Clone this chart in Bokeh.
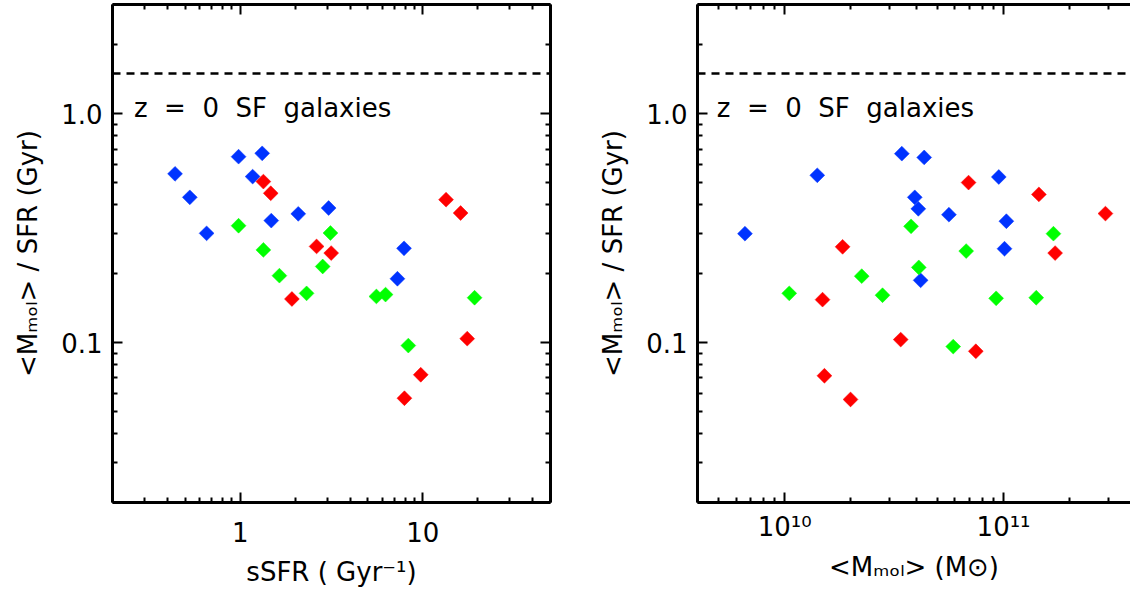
import numpy as np
from bokeh.plotting import figure
from bokeh.layouts import row
from bokeh.models import (FixedTicker, LogAxis, Span, Label, PrintfTickFormatter,
                          CustomJSTickFormatter, Range1d)
from bokeh.embed import file_html
from bokeh.resources import INLINE

# ---------------- data ----------------
# Left panel: sSFR (Gyr^-1) vs <M_mol>/SFR (Gyr)
ssfr_blue = [0.44, 0.53, 0.655, 0.98, 1.32, 1.17, 1.48, 2.08, 3.05, 7.89, 7.26]
tdep_blue_l = [0.546, 0.431, 0.300, 0.649, 0.671, 0.531, 0.341, 0.365, 0.387, 0.258, 0.190]
ssfr_red = [1.34, 1.47, 2.62, 3.15, 13.4, 16.1, 1.92, 17.5, 9.74, 7.93]
tdep_red_l = [0.505, 0.449, 0.263, 0.246, 0.421, 0.368, 0.155, 0.104, 0.0723, 0.0571]
ssfr_green = [0.98, 1.34, 3.12, 2.83, 1.64, 2.31, 5.57, 6.25, 19.2, 8.33]
tdep_green_l = [0.324, 0.254, 0.301, 0.215, 0.196, 0.164, 0.159, 0.162, 0.157, 0.097]

# Right panel: <M_mol> (Msun) vs <M_mol>/SFR (Gyr)
mmol_blue = [6.59e9, 1.41e10, 3.43e10, 4.34e10, 3.93e10, 4.08e10, 5.63e10, 9.51e10, 1.03e11, 1.01e11, 4.18e10]
tdep_blue_r = [0.299, 0.538, 0.669, 0.644, 0.431, 0.384, 0.362, 0.529, 0.339, 0.257, 0.187]
mmol_red = [1.84e10, 6.92e10, 1.45e11, 2.92e11, 1.72e11, 1.49e10, 3.39e10, 7.47e10, 1.52e10, 2.0e10]
tdep_red_r = [0.262, 0.50, 0.444, 0.366, 0.246, 0.154, 0.103, 0.0916, 0.0716, 0.0564]
mmol_green = [3.78e10, 6.75e10, 1.69e11, 4.10e10, 2.25e10, 1.05e10, 2.80e10, 9.25e10, 1.41e11, 5.89e10]
tdep_green_r = [0.322, 0.251, 0.299, 0.213, 0.195, 0.164, 0.161, 0.156, 0.157, 0.096]

z0_sf_tdep = 1.5           # z = 0 star-forming galaxies depletion time (Gyr)
NB = "\u00a0"
annotation = f"z{NB}{NB}={NB}{NB}0{NB}{NB}SF{NB}{NB}galaxies"

BLUE, RED, GREEN = "#0033ff", "#ff0000", "#00ff00"
FONT = "DejaVu Sans"
FS = "26px"


def minor_list(e0, e1, start=None, stop=None):
    out = []
    for e in range(e0, e1 + 1):
        for m in range(2, 10):
            v = m * 10.0 ** e
            if (start is None or v >= start * 0.999) and (stop is None or v <= stop * 1.001):
                out.append(v)
    return out


def style_axis(ax, show_labels=True):
    ax.axis_line_width = 3
    ax.axis_line_color = "black"
    ax.major_tick_line_width = 2
    ax.minor_tick_line_width = 2
    ax.major_tick_line_color = "black"
    ax.minor_tick_line_color = "black"
    ax.major_tick_in = 10
    ax.major_tick_out = 0
    ax.minor_tick_in = 5
    ax.minor_tick_out = 0
    ax.major_label_text_font = FONT
    ax.axis_label_text_font = FONT
    ax.axis_label_text_font_size = FS
    ax.axis_label_text_font_style = "normal"
    ax.axis_label_text_color = "black"
    if show_labels:
        ax.major_label_text_font_size = FS
        ax.major_label_text_color = "black"
    else:
        ax.major_label_text_font_size = "1px"
        ax.major_label_text_alpha = 0.0
        ax.major_label_standoff = 0


def make_panel(x_range, xmajor, xminor, xformatter, xlabel, border_left, border_top,
               frame_w, xs, ys, label_x, xlabel_standoffs, mirror_right=True):
    yminor = minor_list(-2, 0) + [2.0, 3.0]
    p = figure(x_axis_type="log", y_axis_type="log",
               x_range=Range1d(*x_range), y_range=Range1d(0.02, 3.0),
               frame_width=frame_w, frame_height=498,
               min_border_left=border_left, min_border_right=(18 if mirror_right else 0),
               min_border_top=border_top, min_border_bottom=0,
               output_backend="svg", toolbar_location=None)
    p.grid.visible = False
    p.outline_line_color = None
    p.background_fill_color = "white"
    p.border_fill_color = "white"

    xt = FixedTicker(ticks=xmajor, minor_ticks=xminor)
    yt = FixedTicker(ticks=[0.1, 1.0], minor_ticks=yminor)

    p.xaxis.ticker = xt
    p.xaxis.formatter = xformatter
    p.xaxis.axis_label = xlabel
    p.yaxis.ticker = yt
    p.yaxis.formatter = PrintfTickFormatter(format="%.1f")
    p.yaxis.axis_label = "<Mₘₒₗ> / SFR (Gyr)"
    for ax in p.xaxis:
        style_axis(ax)
        ax.major_label_standoff = xlabel_standoffs[0]
        ax.axis_label_standoff = xlabel_standoffs[1]
    for ax in p.yaxis:
        style_axis(ax)
        ax.major_label_standoff = 10
        ax.axis_label_standoff = 15

    top = LogAxis(ticker=xt)
    style_axis(top, show_labels=False)
    p.add_layout(top, "above")
    if mirror_right:
        right = LogAxis(ticker=yt)
        style_axis(right, show_labels=False)
        p.add_layout(right, "right")

    p.add_layout(Span(location=z0_sf_tdep, dimension="width", line_color="black",
                      line_dash="8 6", line_width=2.5))

    for (x, y), c in zip(zip(xs, ys), [BLUE, RED, GREEN]):
        p.scatter(x, y, marker="square", angle=np.pi / 4, size=10.5,
                  fill_color=c, line_color=c, line_width=0.5)

    p.add_layout(Label(x=label_x, y=1.06, text=annotation, text_font=FONT,
                       text_font_size=FS, text_color="black",
                       text_baseline="alphabetic", text_align="left"))
    return p


p1 = make_panel((0.2, 50.0), [1.0, 10.0], minor_list(-1, 1, 0.2, 50.0),
                PrintfTickFormatter(format="%g"), "sSFR ( Gyr⁻¹)", 112, 4, 438,
                [ssfr_blue, ssfr_red, ssfr_green],
                [tdep_blue_l, tdep_red_l, tdep_green_l], 0.262, (19, 12))

sup_fmt = CustomJSTickFormatter(code="""
const e = Math.round(Math.log10(tick));
const sup = {'0':'⁰','1':'¹','2':'²','3':'³','4':'⁴','5':'⁵','6':'⁶','7':'⁷','8':'⁸','9':'⁹','-':'⁻'};
return '10' + String(e).split('').map(c => sup[c]).join('');
""")

p2 = make_panel((4e9, 3.8e11), [1e10, 1e11], minor_list(9, 11, 4e9, 3.8e11),
                sup_fmt, "<Mₘₒₗ> (M⊙)", 129, 2, 433,
                [mmol_blue, mmol_red, mmol_green],
                [tdep_blue_r, tdep_red_r, tdep_green_r], 4.9e9, (9, 7), mirror_right=False)

layout = row(p1, p2)
open("out.html", "w").write(file_html(layout, INLINE))
